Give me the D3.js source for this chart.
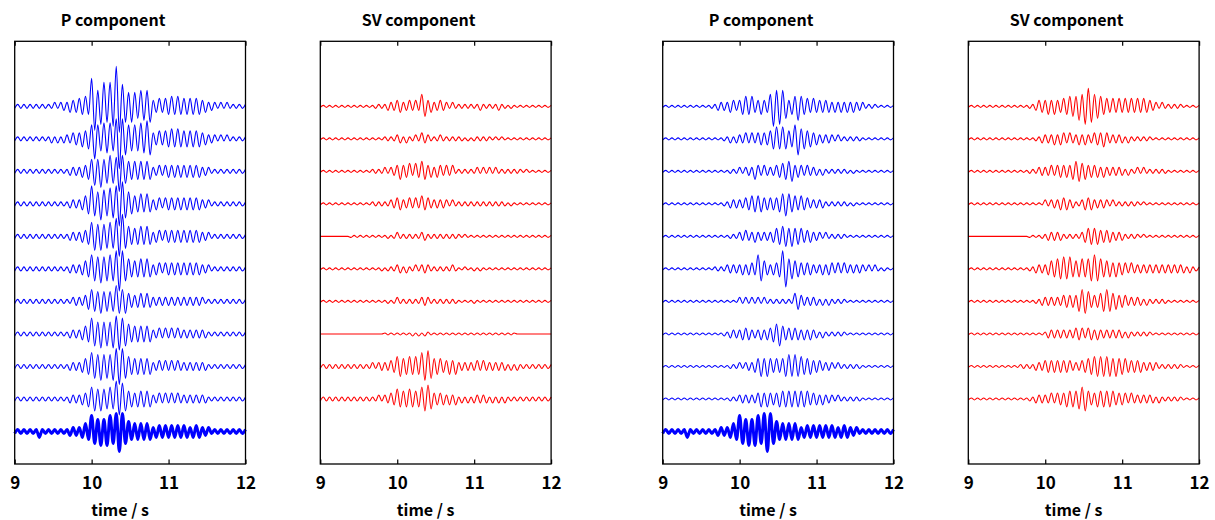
<!DOCTYPE html>
<html>
<head>
<meta charset="utf-8">
<script src="https://cdn.jsdelivr.net/npm/d3@7"></script>
<style>
  body { margin: 0; background: #fff; }
  text { font-family: "Noto Sans CJK JP", "DejaVu Sans", sans-serif; font-weight: bold; fill: #000; }
</style>
</head>
<body>
<div id="chart"></div>
<script>
// seismogram panels: P and SV components, two figures side by side

var timeTicks = [9, 10, 11, 12];
var panelTitles = ["P component", "SV component", "P component", "SV component"];
var sampleStep = 0.04;   // s between successive peaks / troughs
var ampStep = 0.0615;    // one digit of amplitude, in trace spacings

// each string = peak/trough amplitude per half cycle (base 36 digits, '.' = half), sign alternates
var sourceTrace = "11111 11131 11111 11122 22344 86676 7869a 96544 44444 23333 33333 33233 32221 11111 11111 1";

var pTracesLeft = [
  "11111 11111 11121 22233 34454 ec89c 8cakd b8787 68788 33434 45454 44444 43322 21212 11111 1",
  "11111 11111 11212 12223 33445 7a768 786af a8767 68798 33434 45454 44444 43322 21212 11111 1",
  "11111 11111 11111 11122 22334 67686 6867a 86545 45454 22323 33333 33333 32221 11111 11111 1",
  "11111 11111 11111 11122 22345 96687 6879b b7654 45454 23323 33333 33333 32221 11111 11111 1",
  "11111 11111 11111 11122 22334 77676 6769a b6544 45454 23323 33333 33333 32221 11111 11111 1",
  "11111 11111 11111 11122 22344 76676 6769b 96544 45454 23323 33333 33333 32221 11111 11111 1",
  "11111 11111 11111 11112 22234 65565 55586 66433 34343 22222 22222 22222 22111 11111 11111 1",
  "11111 11111 11111 11122 22344 86676 66798 86544 44444 22323 23232 22222 22211 11111 11111 1",
  "11111 11111 11111 11122 22344 76676 66799 96544 44444 22323 23232 22222 22211 11111 11111 1",
  "11111 11111 11111 11122 22334 66565 56598 86443 44444 22323 23232 22222 22211 11111 11111 1"
];

var svTracesLeft = [
  "..... ..... ..... ...11 11222 33223 23265 33223 22121 11111 11211 11121 1.1.. ..... ..... .",
  "..... ..... ..... ..... .1111 22121 12132 21112 11111 11.1. 11111 1.1.1 ..... ..... ..... .",
  "..... ..... ..... ..111 12122 34334 24354 33233 23231 11111 12121 21211 11111 1.1.. ..... .",
  "..... ..... ..... ..111 11122 33223 23243 32222 22121 11111 11111 11111 1.1.. ..... ..... .",
  "00000 00000 ..... ..... ..1.1 21111 11122 11111 11111 1.1.. ..... ..... ..... ..... ..... .",
  "..... ..... ..... ..... 1.111 22121 12122 21111 11121 ..1.. 1.1.. ..... ..... ..... ..... .",
  "..... ..... ..... ..... ..1.1 21111 11122 21111 11111 ..... 1.... ..... ..... ..... ..... .",
  "00000 00000 00000 00000 0.... ..... 1.1.1 1.... ..... ..... ..... ..... ....0 00000 00000 0",
  "11111 11111 11111 11212 22233 55445 45477 86444 33434 22222 23232 22222 21212 11111 11111 1",
  "11111 11111 11111 11112 12233 54445 44466 75333 32323 12121 22222 12121 21111 11111 11111 1"
];

var pTracesRight = [
  "..... ..... ..... .1122 22332 34545 33433 6a898 63457 54434 33333 23232 32322 21111 ..... .",
  "..... ..... ..... ..... 11212 22323 23333 45656 54478 55443 32222 21211 11111 ..... ..... .",
  "..... ..... ..... ..... ..111 21222 43232 22334 45533 32322 21211 11111 1.1.. ..... ..... .",
  "..... ..... ..... ..... 11222 22334 44433 33345 65443 43322 22211 11111 1.1.. ..... ..... .",
  "..... ..... ..... ..... ..111 22322 32222 23445 54544 43332 22121 11111 ..... ..... ..... .",
  "..... ..... ..... ..111 12222 23233 37643 23349 95544 33332 22323 32323 22222 21212 1.1.. .",
  "..... ..... ..... ..... ..... 21212 12121 11111 11144 32222 21212 11111 ..... ..... ..... .",
  "..... ..... ..... ..... 11222 23332 22323 34564 33333 23232 21211 11111 ..... ..... ..... .",
  "..... ..... ..... ..... ..111 21222 34545 43434 56565 54443 33222 21211 11111 ..... ..... .",
  "..... ..... ..... ..... ..111 22222 23434 33344 44444 44433 32322 21211 11111 ..... ..... ."
];

var svTracesRight = [
  "..... ..... ..... ..... 11233 34343 34455 57699 86654 43434 34343 43433 22121 11111 ..... .",
  "..... ..... ..... ..... ..112 22232 33232 23232 23334 32222 21211 11111 ..... ..... ..... .",
  "..... ..... ..... ..... 11122 22323 33334 55443 33323 22222 21211 21211 11111 ..... ..... .",
  "..... ..... ..... ..... ..... 21222 33322 11233 32222 21211 11111 1.1.. ..... ..... ..... .",
  "00000 00000 00000 00000 ....1 12222 21111 11234 44433 33222 21111 1.1.. ..... ..... ..... .",
  "..... ..... ..... ..... 11222 23445 56564 44545 67654 44343 33232 22222 22222 22222 21211 1",
  "..... ..... ..... ..... ..112 22222 23333 35665 33345 65443 33222 22121 11111 ..... ..... .",
  "..... ..... ..... ..... ..... 12222 22222 33323 32322 22222 21211 11111 ..... ..... ..... .",
  "..... ..... ..... ..111 11222 33333 33332 22334 45555 55454 44333 33222 22111 11111 ..... .",
  "..... ..... ..... ..... 11222 22323 33444 45664 33444 44433 33232 22222 21211 11111 ..... ."
];

var w_width = 1215, w_height = 520;
var boxTop = 41.3, boxBottom = 464;
var panelLeft = [14.7, 320.3, 662.7, 968.3];
var panelWidth = 230.8;

var svg = d3.select('#chart').append('svg')
  .attr('width', w_width)
  .attr('height', w_height)
  .style('display', 'block');

svg.append('rect').attr('width', w_width).attr('height', w_height).attr('fill', '#fff');

function decode(s) {
  return s.replace(/\s/g, '').split('').map(function(c) {
    return c === '.' ? 0.5 : parseInt(c, 36);
  });
}

function toPoints(s, offset) {
  return decode(s).map(function(a, k) {
    return {t: 9 + k * sampleStep, v: offset + (k % 2 ? 1 : -1) * a * ampStep};
  }).filter(function(d) { return d.t <= 12.0001 });
}

function drawPanel(i, traces, color, withSource) {
  var x = d3.scaleLinear().domain([9, 12]).range([panelLeft[i], panelLeft[i] + panelWidth]);
  var y = d3.scaleLinear().domain([0, 13]).range([boxBottom, boxTop]);
  var g = svg.append('g');

  var line = d3.line()
    .x(function(d) { return x(d.t) })
    .y(function(d) { return y(d.v) })
    .curve(d3.curveMonotoneX);

  // thin traces, top one sits at 11
  g.selectAll('path.trace')
    .data(traces)
    .enter()
    .append('path')
    .attr('class', 'trace')
    .attr('fill', 'none')
    .attr('stroke', color)
    .attr('stroke-width', 1.1)
    .attr('d', function(d, j) { return line(toPoints(d, 11 - j)) });

  // bold source trace at the bottom
  if (withSource) {
    g.append('path')
      .attr('fill', 'none')
      .attr('stroke', color)
      .attr('stroke-width', 3)
      .attr('stroke-linejoin', 'round')
      .attr('d', line(toPoints(sourceTrace, 1)));
  }

  // box
  g.append('rect')
    .attr('x', x(9)).attr('y', boxTop)
    .attr('width', x(12) - x(9)).attr('height', boxBottom - boxTop)
    .attr('fill', 'none')
    .attr('stroke', '#000')
    .attr('stroke-width', 1.3);

  var bottomAxis = g.append('g')
    .attr('transform', 'translate(0,' + boxBottom + ')')
    .call(d3.axisBottom(x).tickValues(timeTicks).tickSizeInner(-4.5).tickSizeOuter(0).tickPadding(13).tickFormat(d3.format('d')));
  bottomAxis.select('.domain').remove();
  bottomAxis.selectAll('line').attr('stroke', '#000').attr('stroke-width', 1.2);
  bottomAxis.selectAll('text').attr('font-size', '17px').attr('font-family', null);

  var topAxis = g.append('g')
    .attr('transform', 'translate(0,' + boxTop + ')')
    .call(d3.axisTop(x).tickValues(timeTicks).tickSizeInner(-4.5).tickSizeOuter(0).tickFormat(''));
  topAxis.select('.domain').remove();
  topAxis.selectAll('line').attr('stroke', '#000').attr('stroke-width', 1.2);

  var cx = (x(9) + x(12)) / 2;
  g.append('text').text(panelTitles[i])
    .attr('x', cx - 17).attr('y', 26)
    .attr('text-anchor', 'middle')
    .attr('font-size', '16px');

  g.append('text').text('time / s')
    .attr('x', cx - 10).attr('y', 516)
    .attr('text-anchor', 'middle')
    .attr('font-size', '16px');
}

drawPanel(0, pTracesLeft, '#0000ff', true);
drawPanel(1, svTracesLeft, '#ff0000', false);
drawPanel(2, pTracesRight, '#0000ff', true);
drawPanel(3, svTracesRight, '#ff0000', false);
</script>
</body>
</html>
